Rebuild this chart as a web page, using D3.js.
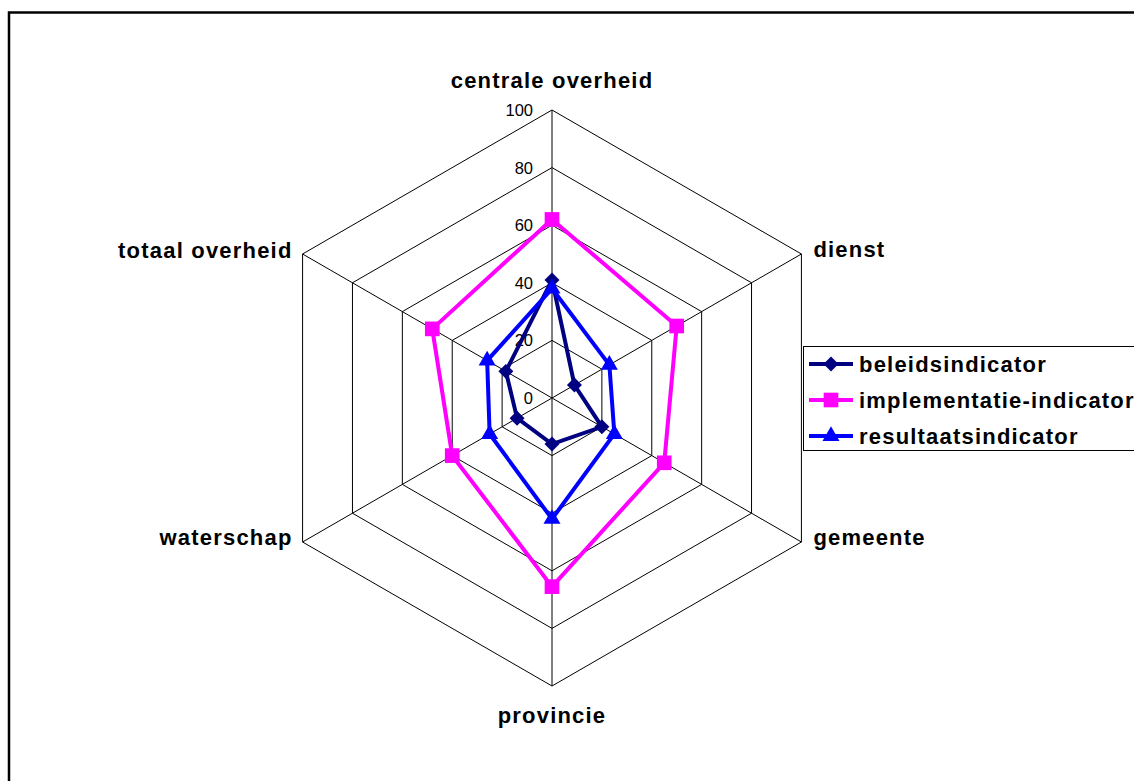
<!DOCTYPE html>
<html>
<head>
<meta charset="utf-8">
<script src="https://cdn.jsdelivr.net/npm/d3@7"></script>
<style>
  body { margin: 0; background: #fff; }
  svg text { font-family: "Liberation Sans", Arial, sans-serif; }
</style>
</head>
<body>
<svg id="SVG_CONTAINER" width="1134" height="781"></svg>
<script>
const categories = ["centrale overheid", "dienst", "gemeente", "provincie", "waterschap", "totaal overheid"];
const beleidsindicator = [41, 9, 20, 16, 14, 18.5];
const implementatieIndicator = [62, 50, 45, 65.5, 40, 48];
const resultaatsindicator = [38, 23, 25, 42, 25, 26];
const tickValues = [0, 20, 40, 60, 80, 100];
const seriesNames = ["beleidsindicator", "implementatie-indicator", "resultaatsindicator"];

const width = 1134, height = 781;
const CX = 552, CY = 398, R = 288;

let svg = d3.select("#SVG_CONTAINER");

// outer frame
svg.append("rect")
    .attr("x", 9).attr("y", 12.5)
    .attr("width", 1200).attr("height", 900)
    .attr("fill", "none")
    .attr("stroke", "#000")
    .attr("stroke-width", 2.5);

let rScale = d3.scaleLinear().domain([0, 100]).range([0, R]);
let angle = i => i * Math.PI * 2 / categories.length;
let px = (i, v) => CX + rScale(v) * Math.sin(angle(i));
let py = (i, v) => CY - rScale(v) * Math.cos(angle(i));

let chart = svg.append("g").attr("class", "radar");

// grid hexagons
tickValues.filter(t => t > 0).forEach(t => {
    chart.append("path")
        .attr("d", d3.line()(categories.map((c, i) => [px(i, t), py(i, t)])) + "Z")
        .attr("fill", "none")
        .attr("stroke", "#000")
        .attr("stroke-width", 1);
});

// spokes
categories.forEach((c, i) => {
    chart.append("line")
        .attr("x1", CX).attr("y1", CY)
        .attr("x2", px(i, 100)).attr("y2", py(i, 100))
        .attr("stroke", "#000")
        .attr("stroke-width", 1);
});

// tick labels
chart.selectAll(".tick-label")
    .data(tickValues)
    .enter()
    .append("text")
        .attr("class", "tick-label")
        .attr("x", CX - 19)
        .attr("y", d => CY - rScale(d))
        .attr("dy", "0.36em")
        .attr("text-anchor", "end")
        .style("font-size", "16.5px")
        .text(d => d);

// category labels
const labelPos = [
    { dx: 0, dy: -22, anchor: "middle" },
    { dx: 12, dy: 3, anchor: "start" },
    { dx: 12, dy: 3, anchor: "start" },
    { dx: 0, dy: 37, anchor: "middle" },
    { dx: -10, dy: 3, anchor: "end" },
    { dx: -10, dy: 4, anchor: "end" },
];
chart.selectAll(".cat-label")
    .data(categories)
    .enter()
    .append("text")
        .attr("class", "cat-label")
        .attr("x", (d, i) => px(i, 100) + labelPos[i].dx)
        .attr("y", (d, i) => py(i, 100) + labelPos[i].dy)
        .attr("text-anchor", (d, i) => labelPos[i].anchor)
        .style("font-size", "22px")
        .style("font-weight", "bold")
        .style("letter-spacing", "1.2px")
        .text(d => d);

// series
const diamond = d3.symbol().type(d3.symbolSquare).size(112);
const series = [
    { name: seriesNames[0], values: beleidsindicator, color: "#000080", sym: d3.symbol().type(d3.symbolSquare).size(112), rot: 45 },
    { name: seriesNames[1], values: implementatieIndicator, color: "#FF00FF", sym: d3.symbol().type(d3.symbolSquare).size(215), rot: 0 },
    { name: seriesNames[2], values: resultaatsindicator, color: "#0000FF", sym: d3.symbol().type(d3.symbolTriangle).size(125), rot: 0 },
];

let lineGen = d3.line().curve(d3.curveLinearClosed);

series.forEach(s => {
    let pts = s.values.map((v, i) => [px(i, v), py(i, v)]);
    chart.append("path")
        .attr("d", lineGen(pts))
        .attr("fill", "none")
        .attr("stroke", s.color)
        .attr("stroke-width", 4)
        .attr("stroke-linejoin", "miter");
    chart.selectAll(null)
        .data(pts)
        .enter()
        .append("path")
            .attr("transform", d => "translate(" + d[0] + "," + d[1] + ") rotate(" + s.rot + ")")
            .attr("d", s.sym)
            .attr("fill", s.color);
});

// legend
let legend = svg.append("g").attr("class", "legend");
legend.append("rect")
    .attr("x", 803.5).attr("y", 346.5)
    .attr("width", 400).attr("height", 104)
    .attr("fill", "#fff")
    .attr("stroke", "#000")
    .attr("stroke-width", 1);

series.forEach((s, k) => {
    let y = 364 + k * 36;
    legend.append("line")
        .attr("x1", 809).attr("x2", 853)
        .attr("y1", y).attr("y2", y)
        .attr("stroke", s.color)
        .attr("stroke-width", 4);
    legend.append("path")
        .attr("transform", "translate(831," + y + ") rotate(" + s.rot + ")")
        .attr("d", s.sym)
        .attr("fill", s.color);
    legend.append("text")
        .attr("x", 859)
        .attr("y", y)
        .attr("dy", "0.36em")
        .style("font-size", "22px")
        .style("font-weight", "bold")
        .style("letter-spacing", "1.2px")
        .text(s.name);
});
</script>
</body>
</html>
